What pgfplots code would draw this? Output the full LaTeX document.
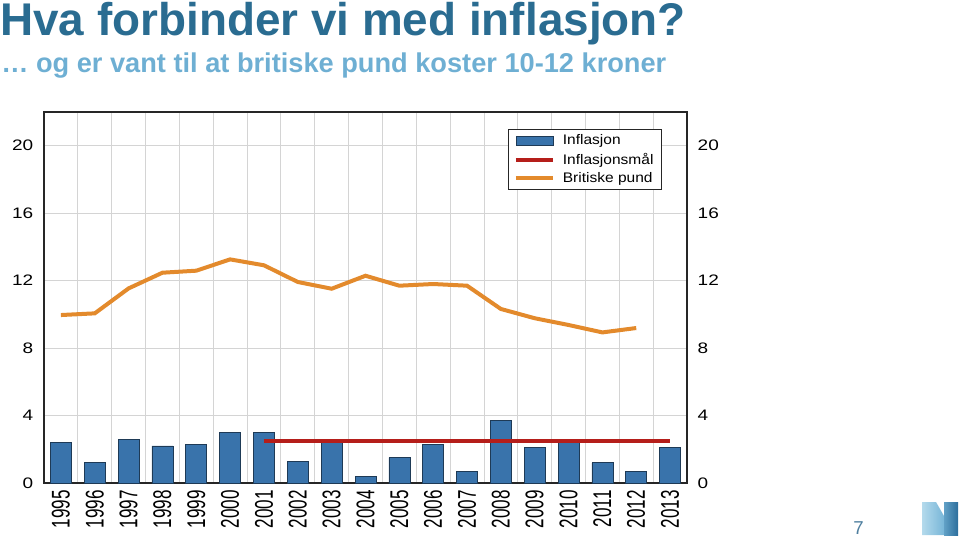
\documentclass[border=0pt]{standalone}
\usepackage{pgfplots}
\pgfplotsset{compat=1.18}
\usepackage{fontspec}
\setmainfont{Liberation Sans}
\newfontfamily\titlefont{Liberation Sans}[FakeStretch=1.0]
\newfontfamily\tickfont{Liberation Sans}[FakeStretch=1.25]
\newfontfamily\legfont{Liberation Sans}[FakeStretch=1.12]
\definecolor{titleblue}{HTML}{2A6C91}
\definecolor{subblue}{HTML}{6EAFD3}
\definecolor{barblue}{HTML}{3973AB}
\definecolor{baredge}{HTML}{1E3A56}
\definecolor{gbp}{HTML}{E38A2C}
\definecolor{target}{HTML}{B51E1A}
\definecolor{gridgray}{HTML}{D4D4D4}
\definecolor{pagenum}{HTML}{4F7F9F}
\definecolor{logolight}{HTML}{B4DAEC}
\definecolor{logomid}{HTML}{78B6D8}
\definecolor{logodark}{HTML}{2C6E9C}
\begin{document}
\begin{tikzpicture}
\path[use as bounding box] (0,0) rectangle (720pt,-403.5pt);
\begin{scope}[x=0.75pt,y=-0.75pt]
\node[anchor=base west, inner sep=0, text=titleblue, font=\titlefont\bfseries\fontsize{34.4}{40}\selectfont] at (0,36) {Hva forbinder vi med inflasjon?};
\node[anchor=base west, inner sep=0, text=subblue, font=\bfseries\fontsize{20.4}{24}\selectfont] at (1,73) {… og er vant til at britiske pund koster 10-12 kroner};
\node[anchor=base west, inner sep=0, text=pagenum, font=\fontsize{14}{16}\selectfont] at (853,534) {7};
\shade[left color=logolight, right color=logomid] (922,502) -- (936,502) -- (944,516) -- (944,535) -- (922,535) -- cycle;
\shade[left color=logomid!70!logodark, right color=logodark] (944,502) -- (958,502) -- (958,535) -- (944,535) -- cycle;
\end{scope}

\begin{axis}[
  at={(33pt,-362.25pt)}, anchor=south west,
  scale only axis, width=482.25pt, height=278.25pt,
  xmin=1994.5, xmax=2013.5, ymin=0, ymax=22,
  ytick={0,4,...,20},
  xtick={1995,...,2013},
  minor xtick={1995.5,1996.5,...,2012.5},
  xminorgrids=true, ymajorgrids=true, xmajorgrids=false,
  major tick length=0pt, minor tick length=0pt,
  grid style={gridgray, line width=0.6pt},
  minor grid style={gridgray, line width=0.6pt},
  axis line style={line width=0.8pt, black!85},
  /pgf/number format/assume math mode=true,
  yticklabel style={font=\tickfont\fontsize{11.4}{12}\selectfont, xshift=-4.5pt},
  xticklabel={\scalebox{1}[1.5]{\pgfmathprintnumber[fixed, precision=0, set thousands separator={}]{\tick}}},
  xticklabel style={rotate=90, anchor=east, font=\fontsize{12.8}{13}\selectfont, xshift=-2pt},
  legend style={at={(0.7216,0.9542)}, anchor=north west, draw=black!85, line width=0.8pt,
    font=\legfont\fontsize{10.4}{12}\selectfont, cells={anchor=west},
    inner xsep=4pt, inner ysep=2pt, row sep=0.6pt, /tikz/column sep=4pt},
]
\addplot[ybar, bar width=15.75pt, fill=barblue, draw=baredge, line width=0.5pt,
  legend image code/.code={\draw[fill=barblue, draw=baredge, line width=0.4pt] (0pt,-3.4pt) rectangle (27.75pt,3.4pt);}]
  coordinates {
  (1995,2.4) (1996,1.2) (1997,2.6) (1998,2.2) (1999,2.3) (2000,3.0) (2001,3.0)
  (2002,1.3) (2003,2.5) (2004,0.4) (2005,1.5) (2006,2.3) (2007,0.7) (2008,3.7)
  (2009,2.1) (2010,2.4) (2011,1.2) (2012,0.7) (2013,2.1)};
\addlegendentry{Inflasjon}
\addplot[target, line width=3pt,
  legend image code/.code={\draw[target, line width=3pt] (0pt,0pt) -- (27.75pt,0pt);}]
  coordinates {(2001,2.5) (2013,2.5)};
\addlegendentry{Inflasjonsmål}
\addplot[gbp, line width=3pt,
  legend image code/.code={\draw[gbp, line width=3pt] (0pt,0pt) -- (27.75pt,0pt);}]
  coordinates {
  (1995,9.96) (1996,10.06) (1997,11.54) (1998,12.47) (1999,12.59) (2000,13.26)
  (2001,12.91) (2002,11.92) (2003,11.52) (2004,12.29) (2005,11.70) (2006,11.80)
  (2007,11.70) (2008,10.32) (2009,9.77) (2010,9.37) (2011,8.93) (2012,9.19)};
\addlegendentry{Britiske pund}
\end{axis}

\begin{axis}[
  at={(33pt,-362.25pt)}, anchor=south west,
  scale only axis, width=482.25pt, height=278.25pt,
  xmin=1994.5, xmax=2013.5, ymin=0, ymax=22,
  ytick={0,4,...,20},
  axis x line=none, axis y line*=right,
  y axis line style={draw=none},
  major tick length=0pt,
  /pgf/number format/assume math mode=true,
  yticklabel style={font=\tickfont\fontsize{11.4}{12}\selectfont, xshift=4.5pt},
]
\addplot[draw=none] coordinates {(2000,0)};
\end{axis}
\end{tikzpicture}
\end{document}
